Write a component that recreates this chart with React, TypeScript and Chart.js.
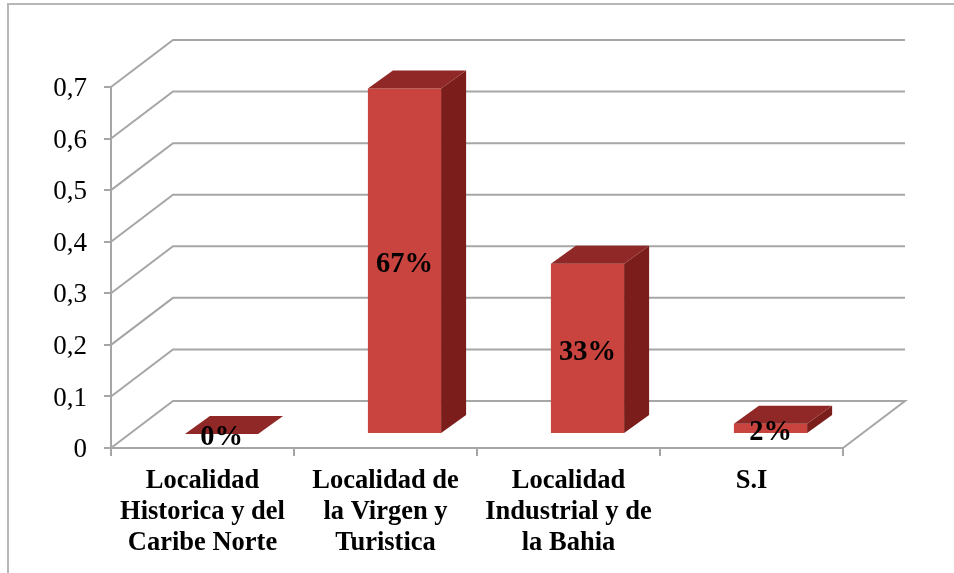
import React, { useEffect, useRef } from "react";
import { Chart, registerables } from "chart.js";

Chart.register(...registerables);

const categories = [
  ["Localidad", "Historica y del", "Caribe Norte"],
  ["Localidad de", "la Virgen y", "Turistica"],
  ["Localidad", "Industrial y de", "la Bahia"],
  ["S.I"],
];
const values = [0, 0.67, 0.33, 0.02];
const valueLabels = ["0%", "67%", "33%", "2%"];

const GRID = "#a6a6a6";
const FRONT = "#c9433f";
const TOP = "#8f2826";
const SIDE = "#7a1d1b";
const SERIF = "'Liberation Serif', serif";
const WALL_DX = 62;
const WALL_DY = 47;
const BAR_DX = 19;
const BAR_DY = 14;
const DEPTH_DX = 25;
const DEPTH_DY = 18;

const walls = {
  id: "walls",
  beforeDatasetsDraw(chart: any) {
    const { ctx, chartArea, scales } = chart;
    const y = scales.y;
    ctx.save();
    ctx.strokeStyle = GRID;
    ctx.lineWidth = 2;
    ctx.lineJoin = "miter";
    y.ticks.forEach((t: any) => {
      const py = y.getPixelForValue(t.value);
      ctx.beginPath();
      ctx.moveTo(chartArea.left, py);
      ctx.lineTo(chartArea.left + WALL_DX, py - WALL_DY);
      ctx.lineTo(chartArea.right + WALL_DX, py - WALL_DY);
      if (t.value === 0) ctx.lineTo(chartArea.right, py);
      ctx.stroke();
    });
    ctx.restore();
  },
  beforeDatasetDraw(chart: any) {
    chart.ctx.save();
    chart.ctx.translate(BAR_DX, -BAR_DY);
  },
  afterDatasetDraw(chart: any) {
    const { ctx } = chart;
    const meta = chart.getDatasetMeta(0);
    meta.data.forEach((bar: any) => {
      const { x, y, base, width } = bar.getProps(["x", "y", "base", "width"], true);
      const l = x - width / 2;
      const r = x + width / 2;
      ctx.fillStyle = SIDE;
      ctx.beginPath();
      ctx.moveTo(r, y);
      ctx.lineTo(r + DEPTH_DX, y - DEPTH_DY);
      ctx.lineTo(r + DEPTH_DX, base - DEPTH_DY);
      ctx.lineTo(r, base);
      ctx.closePath();
      ctx.fill();
      ctx.fillStyle = TOP;
      ctx.beginPath();
      ctx.moveTo(l, y);
      ctx.lineTo(l + DEPTH_DX, y - DEPTH_DY);
      ctx.lineTo(r + DEPTH_DX, y - DEPTH_DY);
      ctx.lineTo(r, y);
      ctx.closePath();
      ctx.fill();
    });
    ctx.fillStyle = "#000";
    ctx.font = `bold 28.5px ${SERIF}`;
    ctx.textAlign = "center";
    ctx.textBaseline = "middle";
    meta.data.forEach((bar: any, i: number) => {
      const { x, y, base } = bar.getProps(["x", "y", "base"], true);
      ctx.fillText(valueLabels[i], x, (y + base) / 2 + 4);
    });
    ctx.restore();
  },
};

export default function App() {
  const ref = useRef<HTMLCanvasElement>(null);
  useEffect(() => {
    const chart = new Chart(ref.current!, {
      type: "bar",
      data: {
        labels: categories as any,
        datasets: [
          {
            data: values,
            backgroundColor: FRONT,
            barPercentage: 0.4,
            categoryPercentage: 1,
          },
        ],
      },
      options: {
        responsive: false,
        animation: false,
        layout: { padding: { left: 0, top: 87, right: 111, bottom: 0 } },
        plugins: { legend: { display: false }, tooltip: { enabled: false } },
        scales: {
          x: {
            grid: { drawOnChartArea: false, color: GRID, lineWidth: 2, tickLength: 8 },
            border: { color: GRID, width: 2 },
            ticks: {
              color: "#000",
              maxRotation: 0,
              autoSkip: false,
              padding: 10,
              font: { family: SERIF, size: 26.5, weight: "bold", lineHeight: 1.16 },
            },
            afterFit(s: any) {
              s.height = 125;
            },
          },
          y: {
            min: 0,
            max: 0.7,
            grid: { drawOnChartArea: false, color: GRID, lineWidth: 2, tickLength: 7 },
            border: { color: GRID, width: 2 },
            ticks: {
              stepSize: 0.1,
              color: "#000",
              padding: 17,
              labelOffset: 2,
              font: { family: SERIF, size: 27 },
              callback: (v: any) => (Number(v) === 0 ? "0" : Number(v).toFixed(1).replace(".", ",")),
            },
            afterFit(s: any) {
              s.width = 111;
            },
          },
        },
      },
      plugins: [walls],
    } as any);
    return () => chart.destroy();
  }, []);
  return (
    <div style={{ position: "absolute", left: 0, top: 0, width: 954, height: 573, background: "#fff", overflow: "hidden" }}>
      <div style={{ position: "absolute", left: 7, top: 3, width: 947, height: 570, borderLeft: "2px solid #b8b8b8", borderTop: "2px solid #b8b8b8" }} />
      <canvas ref={ref} width={954} height={573} style={{ position: "absolute", left: 0, top: 0 }} />
    </div>
  );
}
